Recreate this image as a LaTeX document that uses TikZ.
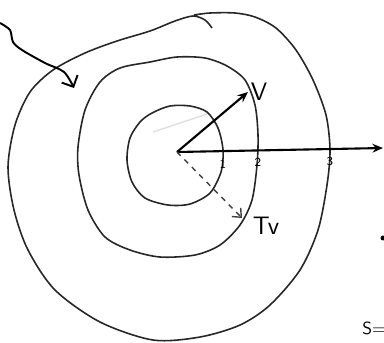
\documentclass[tikz,border=0pt]{standalone}
\usepackage{tikz}
\usetikzlibrary{arrows.meta, positioning}

\begin{document}
\begin{tikzpicture}[x=0.02cm, y=-0.02cm,
      ring/.style={line width=0.9pt, black!85},
      vec/.style={-{Stealth[length=6pt, width=5pt]}, line width=1.2pt},
      tvec/.style={-{Straight Barb[length=4pt, width=7pt]}, dashed, line width=0.8pt, black!75},
      tick/.style={font=\scriptsize\sffamily, inner sep=0.5pt},
      lbl/.style={font=\Large\sffamily, inner sep=1pt}
    ]
    \useasboundingbox (0,0) rectangle (384,342);

    %--- rings ---
    \draw[ring] plot[smooth] coordinates {(212,28) (205,20) (193,16) (175,21) (150,31)
        (117,41) (85,53) (53,70) (30,92) (15,125) (8,167) (14,210) (28,250) (55,290)
        (100,322) (153,340) (200,337) (240,325) (270,305) (300,270) (318,230) (327,185)
        (330,150) (326,115) (313,80) (296,50) (276,28) (255,17) (235,13) (210,13) (194,15)};
    \draw[ring] plot[smooth cycle] coordinates {(150,62) (177,57) (205,58) (227,66)
        (245,80) (255,105) (258,135) (257,165) (252,200) (240,225) (220,245) (195,255)
        (160,257) (130,250) (105,237) (88,210) (79,175) (78,147) (85,110) (100,82) (120,68)};
    \draw[ring] plot[smooth cycle] coordinates {(152,113) (170,106) (190,106) (207,112)
        (218,128) (223,150) (221,172) (210,193) (190,204) (168,205) (145,198) (132,182)
        (127,160) (130,138) (140,122)};
    \draw[gray!25, line width=0.8pt] (153,132) -- (207,114);

    %--- vectors ---
    \coordinate (o) at (177,152);
    \coordinate (vtip) at (248,92);
    \coordinate (tvtip) at (242,218);
    \coordinate (axend) at (383,148);
    \draw[vec] (o) -- (axend);
    \draw[vec] (o) -- (vtip);
    \draw[tvec] (o) -- (tvtip);
    \node[lbl] (vlbl) at (259,92) {V};
    \node[lbl] (tvlbl) at (266,226) {Tv};

    %--- marks on the axis ---
    \node[tick] (one) at (223,164) {1};
    \node[tick] (two) at (258,162) {2};
    \node[tick] (three) at (330,161) {3};

    %--- pointer from the corner ---
    \draw[line width=1.1pt, -{Straight Barb[length=5pt, width=10pt]}] plot[smooth]
        coordinates {(0,23) (10,30) (13,42) (22,50) (45,63) (64,72) (74,88)};

    %--- cut-off bits on the right ---
    \node[circle, fill=black, inner sep=1pt] (dot) at (383,238) {};
    \node[font=\normalsize\sffamily, anchor=west, inner sep=0pt] (seq) at (362,328) {S=};
  \end{tikzpicture}
\end{document}
